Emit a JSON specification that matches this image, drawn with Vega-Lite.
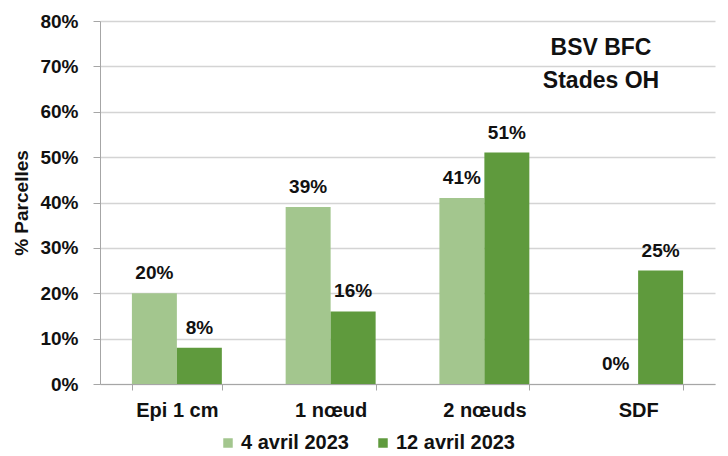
{
  "$schema": "https://vega.github.io/schema/vega-lite/v6.json",
  "width": 615,
  "height": 363,
  "autosize": {"type": "none"},
  "padding": {"left": 100, "top": 21, "right": 13, "bottom": 72},
  "background": "white",
  "config": {
    "font": "Liberation Sans",
    "view": {"stroke": null},
    "axis": {"labelFont": "Liberation Sans", "titleFont": "Liberation Sans"}
  },
  "title": {
    "text": ["BSV BFC", "Stades OH"],
    "anchor": "end",
    "align": "center",
    "dx": -114,
    "dy": 85,
    "baseline": "top",
    "fontSize": 23,
    "fontWeight": "bold",
    "lineHeight": 33,
    "color": "#111111",
    "font": "Liberation Sans"
  },
  "data": {
    "values": [
      {"stade": "Epi 1 cm", "date": "4 avril 2023", "v": 0.20},
      {"stade": "Epi 1 cm", "date": "12 avril 2023", "v": 0.08},
      {"stade": "1 nœud", "date": "4 avril 2023", "v": 0.39},
      {"stade": "1 nœud", "date": "12 avril 2023", "v": 0.16},
      {"stade": "2 nœuds", "date": "4 avril 2023", "v": 0.41},
      {"stade": "2 nœuds", "date": "12 avril 2023", "v": 0.51},
      {"stade": "SDF", "date": "4 avril 2023", "v": 0.0},
      {"stade": "SDF", "date": "12 avril 2023", "v": 0.25}
    ]
  },
  "encoding": {
    "x": {
      "field": "stade",
      "type": "nominal",
      "sort": ["Epi 1 cm", "1 nœud", "2 nœuds", "SDF"],
      "scale": {"paddingInner": 0.415, "paddingOuter": 0.2075},
      "axis": {
        "title": null,
        "labelAngle": 0,
        "labelFontSize": 20,
        "labelFontWeight": "bold",
        "labelColor": "#111111",
        "labelPadding": 10,
        "tickBand": "extent",
        "tickSize": 6,
        "tickColor": "#a6a6a6",
        "domainColor": "#a6a6a6",
        "grid": false
      }
    },
    "xOffset": {"field": "date", "type": "nominal", "sort": ["4 avril 2023", "12 avril 2023"]},
    "y": {
      "field": "v",
      "type": "quantitative",
      "scale": {"domain": [0, 0.8]},
      "axis": {
        "title": "% Parcelles",
        "titleFontSize": 19,
        "titleFontWeight": "bold",
        "titleColor": "#111111",
        "titlePadding": 8,
        "format": ".0%",
        "values": [0, 0.1, 0.2, 0.3, 0.4, 0.5, 0.6, 0.7, 0.8],
        "labelFontSize": 19,
        "labelFontWeight": "bold",
        "labelColor": "#111111",
        "labelPadding": 15,
        "tickSize": 7,
        "tickColor": "#a6a6a6",
        "domainColor": "#a6a6a6",
        "gridColor": "#d4d4d4",
        "gridWidth": 1.5
      }
    }
  },
  "layer": [
    {
      "mark": {"type": "bar"},
      "encoding": {
        "color": {
          "field": "date",
          "type": "nominal",
          "sort": ["4 avril 2023", "12 avril 2023"],
          "scale": {"domain": ["4 avril 2023", "12 avril 2023"], "range": ["#a3c68e", "#5f9a3d"]},
          "legend": {
            "title": null,
            "orient": "none",
            "direction": "horizontal",
            "legendX": 118,
            "legendY": 412,
            "symbolType": "square",
            "symbolSize": 90,
            "symbolStrokeWidth": 0,
            "labelFontSize": 20,
            "labelFontWeight": "bold",
            "labelColor": "#111111",
            "labelFont": "Liberation Sans",
            "columnPadding": 24,
            "labelOffset": 3
          }
        }
      }
    },
    {
      "mark": {"type": "text", "dy": -20, "fontSize": 19, "fontWeight": "bold", "color": "#111111", "font": "Liberation Sans"},
      "encoding": {
        "text": {"field": "v", "type": "quantitative", "format": ".0%"}
      }
    }
  ]
}
